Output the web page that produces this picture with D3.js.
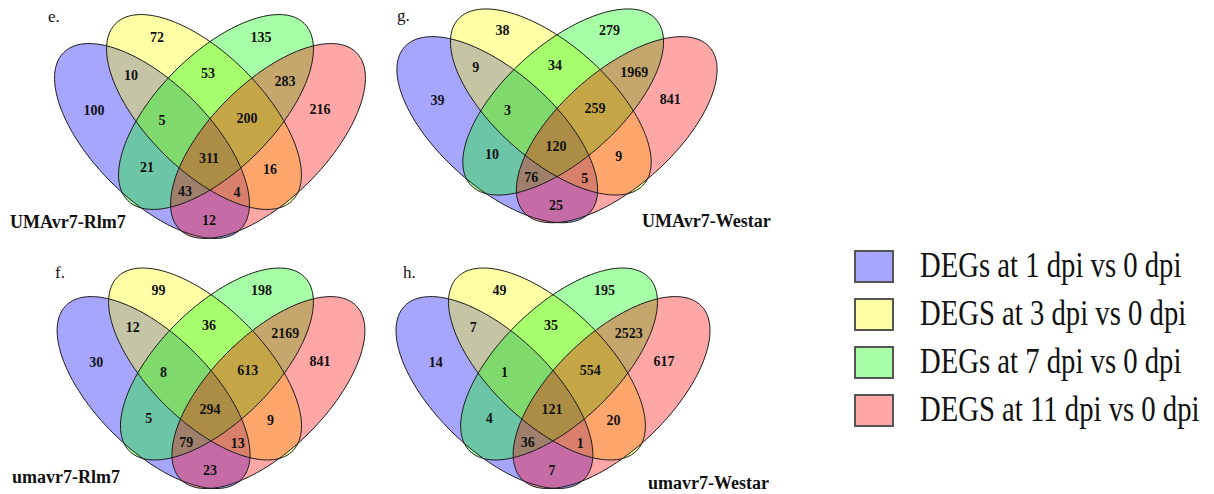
<!DOCTYPE html>
<html>
<head>
<meta charset="utf-8">
<script src="https://cdn.jsdelivr.net/npm/d3@7"></script>
<style>
  body { margin: 0; background: #fff; }
  svg { display: block; }
  text { font-family: "Liberation Serif", "Times New Roman", serif; }
</style>
</head>
<body>
<div id="venn_figure"></div>
<script>
// the four sets, in drawing order
var setNames = ["DEGs at 1 dpi vs 0 dpi", "DEGS at 3 dpi vs 0 dpi", "DEGs at 7 dpi vs 0 dpi", "DEGS at 11 dpi vs 0 dpi"];
var setColors = ["#0000ff", "#ffff00", "#00ff00", "#ff0000"];

// A = 1 dpi, B = 3 dpi, C = 7 dpi, D = 11 dpi
var regionKeys = ["A", "B", "C", "D", "AB", "BC", "CD", "ABC", "BCD", "AC", "ABCD", "BD", "ACD", "ABD", "AD"];

var panelLetters = ["e.", "g.", "f.", "h."];
var panelTitles = ["UMAvr7-Rlm7", "UMAvr7-Westar", "umavr7-Rlm7", "umavr7-Westar"];

var countsE = [100, 72, 135, 216, 10, 53, 283, 5, 200, 21, 311, 16, 43, 4, 12];
var countsG = [39, 38, 279, 841, 9, 34, 1969, 3, 259, 10, 120, 9, 76, 5, 25];
var countsF = [30, 99, 198, 841, 12, 36, 2169, 8, 613, 5, 294, 9, 79, 13, 23];
var countsH = [14, 49, 195, 617, 7, 35, 2523, 1, 554, 4, 121, 20, 36, 1, 7];
var panelCounts = [countsE, countsG, countsF, countsH];

var width = 1214;
var height = 494;

// where each panel sits (centre of the diagram) and how it is stretched
var panels = [
    {cx: 210, cy: 112, sx: 1.00, sy: 1.00, letter: [48, 22], title: [10, 228]},
    {cx: 557, cy: 102, sx: 1.03, sy: 0.955, letter: [397, 21], title: [642, 227]},
    {cx: 211, cy: 364, sx: 0.99, sy: 0.985, letter: [55, 278], title: [12, 483]},
    {cx: 553, cy: 364, sx: 1.01, sy: 0.985, letter: [403, 278], title: [648, 489]}
];

// ellipse layout in diagram units (y down)
var ellipses = [
    {x: -58, y: 29, rot: 45},
    {x: -6, y: 0, rot: 45},
    {x: 6, y: 0, rot: -45},
    {x: 58, y: 29, rot: -45}
];
var ra = 125, rb = 58;

// label centres in diagram units
var labelPos = {
    A: [-116, -2], B: [-53, -75], C: [51, -75], D: [110, -3],
    AB: [-79, -37], BC: [-2, -39], CD: [75, -31],
    ABC: [-48, 8], BCD: [37, 6],
    AC: [-63, 55], ABCD: [-1, 46], BD: [60, 57],
    ACD: [-25, 79], ABD: [27, 80], AD: [-1, 108]
};

function ellipsePoints(e) {
    var r = e.rot * Math.PI / 180;
    return d3.range(0, 180).map(function (i) {
        var t = i / 180 * 2 * Math.PI;
        return [
            e.x + ra * Math.cos(t) * Math.cos(r) - rb * Math.sin(t) * Math.sin(r),
            e.y + ra * Math.cos(t) * Math.sin(r) + rb * Math.sin(t) * Math.cos(r)
        ];
    });
}

var svg = d3.select("#venn_figure").append("svg")
    .attr("width", width)
    .attr("height", height);

panels.forEach(function (p, k) {
    var x = d3.scaleLinear().domain([0, 100]).range([p.cx, p.cx + 100 * p.sx]);
    var y = d3.scaleLinear().domain([0, 100]).range([p.cy, p.cy + 100 * p.sy]);
    var line = d3.line()
        .x(function (d) { return x(d[0]); })
        .y(function (d) { return y(d[1]); })
        .curve(d3.curveLinearClosed);

    var g = svg.append("g");

    // fills first, outlines on top
    g.selectAll("path.fill")
        .data(ellipses)
        .enter().append("path")
        .attr("class", "fill")
        .attr("d", function (e) { return line(ellipsePoints(e)); })
        .attr("fill", function (e, i) { return setColors[i]; })
        .attr("fill-opacity", 0.35);

    g.selectAll("path.edge")
        .data(ellipses)
        .enter().append("path")
        .attr("class", "edge")
        .attr("d", function (e) { return line(ellipsePoints(e)); })
        .attr("fill", "none")
        .attr("stroke", "#1a1a1a")
        .attr("stroke-width", 1);

    g.selectAll("text.count")
        .data(regionKeys.map(function (key, i) { return {key: key, value: panelCounts[k][i]}; }))
        .enter().append("text")
        .attr("class", "count")
        .attr("x", function (d) { return x(labelPos[d.key][0]); })
        .attr("y", function (d) { return y(labelPos[d.key][1]); })
        .attr("dy", "0.35em")
        .attr("text-anchor", "middle")
        .attr("font-size", 14)
        .attr("font-weight", "bold")
        .attr("fill", "#111")
        .text(function (d) { return d.value; });

    g.append("text")
        .attr("x", p.letter[0])
        .attr("y", p.letter[1])
        .attr("font-size", 17)
        .attr("fill", "#111")
        .text(panelLetters[k]);

    g.append("text")
        .attr("x", p.title[0])
        .attr("y", p.title[1])
        .attr("font-size", 18)
        .attr("font-weight", "bold")
        .attr("fill", "#111")
        .text(panelTitles[k]);
});

// legend
var legend = svg.append("g")
    .selectAll("g")
    .data(setNames)
    .enter().append("g");

legend.append("rect")
    .attr("x", 855)
    .attr("y", function (d, i) { return 251 + i * 48; })
    .attr("width", 38)
    .attr("height", 31)
    .attr("fill", function (d, i) { return setColors[i]; })
    .attr("fill-opacity", 0.35)
    .attr("stroke", "#555")
    .attr("stroke-width", 2);

legend.append("text")
    .attr("transform", function (d, i) { return "translate(920," + (277 + i * 48) + ") scale(0.82,1)"; })
    .attr("font-size", 35)
    .attr("fill", "#111")
    .text(function (d) { return d; });
</script>
</body>
</html>
